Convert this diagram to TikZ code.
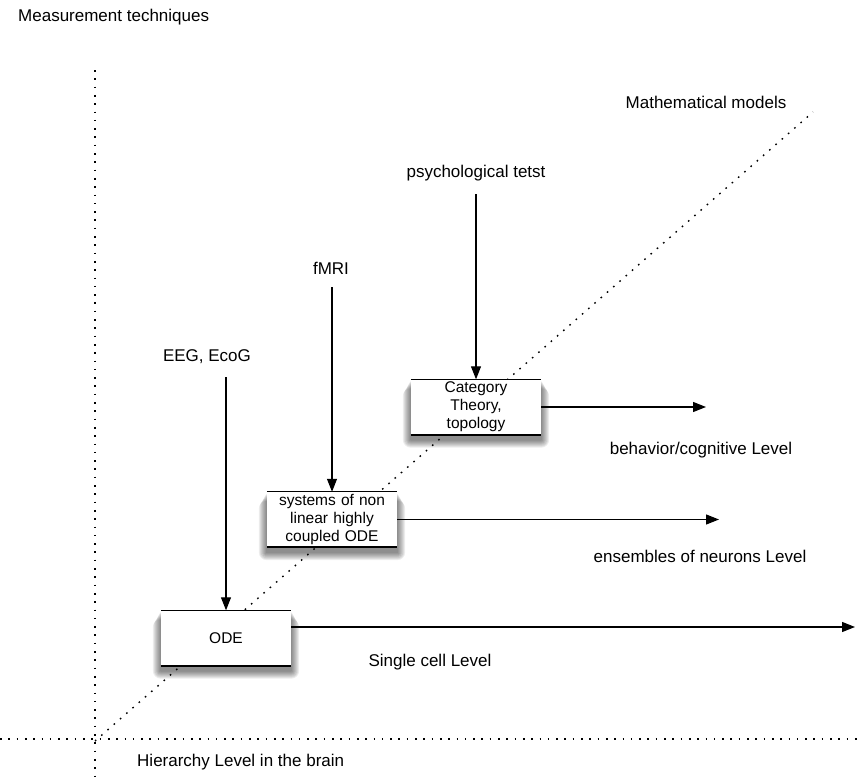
\documentclass[tikz,border=0pt]{standalone}
\usepackage{fontspec}
\setmainfont{Liberation Sans}
\usetikzlibrary{arrows.meta,positioning,backgrounds}

\tikzset{
  lbl/.style={font=\fontsize{17}{20}\selectfont,inner sep=1pt},
  dotline/.style={line width=1.4pt,dash pattern=on 1.6pt off 6.7pt},
  arr/.style={-{Triangle[length=13pt,width=10pt]},line width=1.2pt},
  modelbox/.style={fill=white,minimum width=130pt,minimum height=55pt,
    text width=128pt,align=center,inner sep=0pt,
    font=\fontsize{15.5}{18}\selectfont},
}

\begin{document}
\begin{tikzpicture}[x=1pt,y=-1pt]
  \useasboundingbox (0,0) rectangle (861,776);
  % axes
  \coordinate (yax-top) at (95,70);
  \coordinate (yax-bot) at (95,776);
  \coordinate (xax-l) at (0,739);
  \coordinate (xax-r) at (861,739);
  \coordinate (dg-l) at (95,741);
  \coordinate (dg-r) at (813,112);
  \draw[dotline] (yax-top)--(yax-bot);
  \draw[dotline] (xax-l)--(xax-r);
  \draw[dotline] (dg-l)--(dg-r);
  \node[lbl,anchor=west] (meas) at (17,17) {Measurement techniques};
  \node[lbl,anchor=west] (hier) at (136,762) {Hierarchy Level in the brain};
  \node[lbl] (math) at (706,102) {Mathematical models};

  % models
  \node[modelbox] (cat) at (476,407) {Category\\Theory,\\topology};
  \node[modelbox] (sys) at (332,519.5) {systems of non\\linear highly\\coupled ODE};
  \node[modelbox] (ode) at (226,638) {ODE};
  \foreach \b in {cat,sys,ode}{
    \draw[line width=1pt] (\b.north west)--(\b.north east);
    \draw[line width=1.6pt] (\b.south west)--(\b.south east);
  }
  \begin{scope}[on background layer]
    \foreach \b in {cat,sys,ode}
      \foreach \r in {1,...,8}
        \fill[black,opacity=0.07,rounded corners=\r pt]
          ([xshift=-\r pt,yshift=-\r pt-1pt]\b.north west)
          rectangle ([xshift=\r pt,yshift=-\r pt-5pt]\b.south east);
  \end{scope}

  % measurements
  \node[lbl] (psy) at (476,173) {psychological tetst};
  \node[lbl] (fmri) at (331,268) {fMRI};
  \node[lbl] (eeg) at (207,357) {EEG, EcoG};
  \draw[arr] ([yshift=-12pt]psy.south -| cat.north)--(cat.north);
  \draw[arr] ([yshift=-12pt]fmri.south -| sys.north)--(sys.north);
  \draw[arr] ([yshift=-12pt]eeg.south -| ode.north)--(ode.north);

  % levels
  \coordinate (cat-end) at (706,407);
  \coordinate (sys-end) at (719,519.5);
  \coordinate (ode-end) at (855,627);
  \draw[arr] (cat.east)--(cat-end);
  \draw[arr] (sys.east)--(sys-end);
  \draw[arr] (ode.east |- ode-end)--(ode-end);
  \node[lbl] (beh) at (701,450) {behavior/cognitive Level};
  \node[lbl] (ens) at (700,556) {ensembles of neurons Level};
  \node[lbl] (cell) at (430,662) {Single cell Level};
\end{tikzpicture}
\end{document}
